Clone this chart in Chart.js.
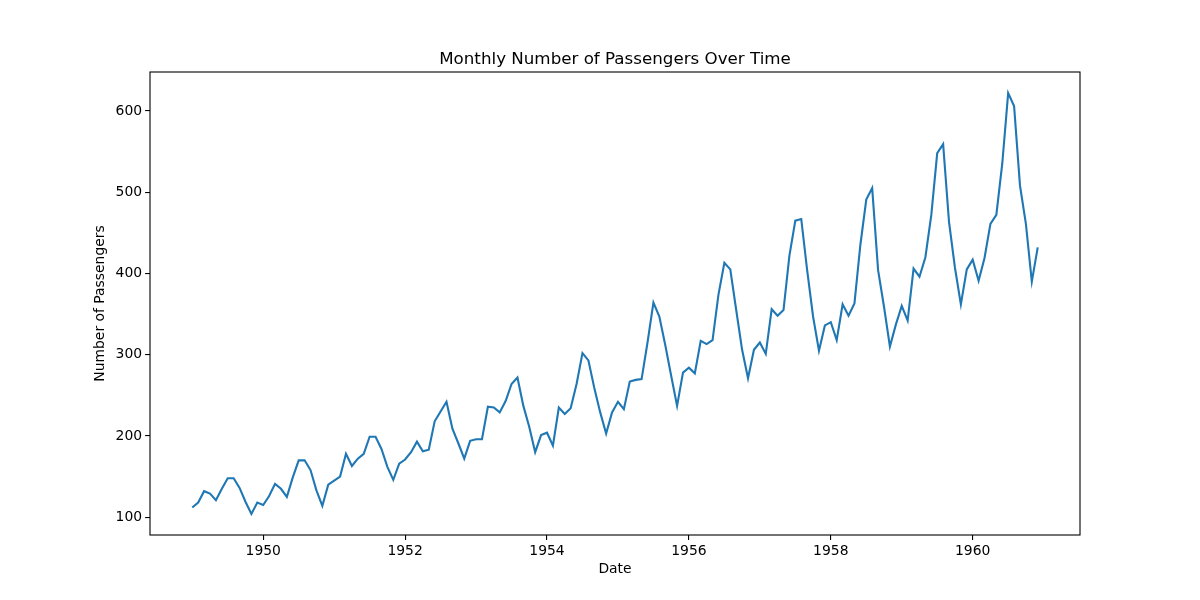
<!DOCTYPE html>
<html>
<head>
<meta charset="utf-8">
<script src="https://cdn.jsdelivr.net/npm/chart.js@4"></script>
<style>
  body { margin: 0; background: #fff; }
  #chart { display: block; }
</style>
</head>
<body>
<canvas id="chart" width="1200" height="600"></canvas>
<script>
// monthly totals, Jan..Dec, one list per year
const years = [1949, 1950, 1951, 1952, 1953, 1954, 1955, 1956, 1957, 1958, 1959, 1960]
const passengers = [
    [112, 118, 132, 129, 121, 135, 148, 148, 136, 119, 104, 118],
    [115, 126, 141, 135, 125, 149, 170, 170, 158, 133, 114, 140],
    [145, 150, 178, 163, 172, 178, 199, 199, 184, 162, 146, 166],
    [171, 180, 193, 181, 183, 218, 230, 242, 209, 191, 172, 194],
    [196, 196, 236, 235, 229, 243, 264, 272, 237, 211, 180, 201],
    [204, 188, 235, 227, 234, 264, 302, 293, 259, 229, 203, 229],
    [242, 233, 267, 269, 270, 315, 364, 347, 312, 274, 237, 278],
    [284, 277, 317, 313, 318, 374, 413, 405, 355, 306, 271, 306],
    [315, 301, 356, 348, 355, 422, 465, 467, 404, 347, 305, 336],
    [340, 318, 362, 348, 363, 435, 491, 505, 404, 359, 310, 337],
    [360, 342, 406, 396, 420, 472, 548, 559, 463, 407, 362, 405],
    [417, 391, 419, 461, 472, 535, 622, 606, 508, 461, 390, 432],
]
const xTicks = [1950, 1952, 1954, 1956, 1958, 1960]
const yTicks = [100, 200, 300, 400, 500, 600]

const chartTitle = "Monthly Number of Passengers Over Time"
const fontFamily = "'DejaVu Sans', sans-serif"

// x as fractional year so the date axis can be a plain linear scale
const points = []
years.forEach((year, i) => {
    passengers[i].forEach((value, m) => {
        points.push({ x: year + m / 12, y: value })
    })
})

// matplotlib style 5% margins around the data
const xs = points.map((p) => p.x)
const ys = points.map((p) => p.y)
const xPad = (Math.max(...xs) - Math.min(...xs)) * 0.05
const yPad = (Math.max(...ys) - Math.min(...ys)) * 0.05

const framePlugin = {
    id: "frame",
    afterDraw(chart) {
        const { ctx, chartArea } = chart
        ctx.save()
        ctx.strokeStyle = "#000"
        ctx.lineWidth = 1.1
        ctx.strokeRect(chartArea.left, chartArea.top,
            chartArea.right - chartArea.left, chartArea.bottom - chartArea.top)
        ctx.fillStyle = "#000"
        ctx.font = "16.7px " + fontFamily
        ctx.textAlign = "center"
        ctx.textBaseline = "alphabetic"
        ctx.fillText(chartTitle, (chartArea.left + chartArea.right) / 2, 64)
        ctx.restore()
    },
}

const tickFont = { family: fontFamily, size: 13.9 }
const tickGrid = {
    drawOnChartArea: false,
    drawTicks: true,
    tickLength: 4.9,
    color: "#000",
    lineWidth: 1.1,
}

new Chart(document.getElementById("chart").getContext("2d"), {
    type: "line",
    data: {
        datasets: [
            {
                data: points,
                borderColor: "#1f77b4",
                borderWidth: 2.1,
                pointRadius: 0,
                tension: 0,
                fill: false,
            },
        ],
    },
    options: {
        responsive: false,
        animation: false,
        devicePixelRatio: 1,
        layout: { padding: { left: 0, right: 120, top: 72, bottom: 0 } },
        plugins: {
            legend: { display: false },
            title: { display: false },
            tooltip: { enabled: false },
        },
        scales: {
            x: {
                type: "linear",
                min: Math.min(...xs) - xPad,
                max: Math.max(...xs) + xPad,
                afterBuildTicks: (scale) => {
                    scale.ticks = xTicks.map((v) => ({ value: v }))
                },
                afterFit: (scale) => { scale.height = 65 },
                ticks: {
                    color: "#000",
                    font: tickFont,
                    padding: 3,
                    maxRotation: 0,
                    callback: (v) => String(v),
                },
                grid: tickGrid,
                border: { display: false },
                title: {
                    display: true,
                    text: "Date",
                    color: "#000",
                    font: tickFont,
                    padding: { top: 0, bottom: 22.6 },
                },
            },
            y: {
                type: "linear",
                min: Math.min(...ys) - yPad,
                max: Math.max(...ys) + yPad,
                afterBuildTicks: (scale) => {
                    scale.ticks = yTicks.map((v) => ({ value: v }))
                },
                afterFit: (scale) => { scale.width = 150 },
                ticks: {
                    color: "#000",
                    font: tickFont,
                    padding: 3,
                    callback: (v) => String(v),
                },
                grid: tickGrid,
                border: { display: false },
                title: {
                    display: true,
                    text: "Number of Passengers",
                    color: "#000",
                    font: tickFont,
                    padding: { top: 91.6, bottom: 0 },
                },
            },
        },
    },
    plugins: [framePlugin],
})
</script>
</body>
</html>
